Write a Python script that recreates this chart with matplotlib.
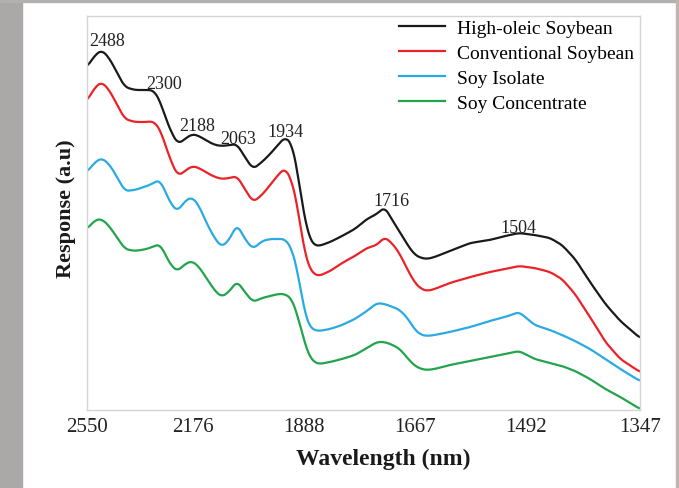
import matplotlib
matplotlib.use("Agg")
import matplotlib.pyplot as plt
from matplotlib.patches import Rectangle
import numpy as np

# ===== dados =====
# comprimentos de onda (nm) comuns às quatro curvas
wavelength = [2550, 2517, 2490, 2459, 2428, 2403, 2367, 2325, 2308, 2298,
              2281, 2265, 2242, 2223, 2202, 2180, 2159, 2136, 2113, 2094,
              2072, 2053, 2032, 2011, 1988, 1968, 1949, 1932, 1916, 1904,
              1893, 1884, 1875, 1866, 1855, 1831, 1806, 1780, 1756, 1737,
              1722, 1707, 1694, 1679, 1667, 1656, 1646, 1633, 1608, 1575,
              1545, 1522, 1502, 1480, 1459, 1443, 1426, 1407, 1388, 1370,
              1347]

high_oleic = [3.43, 3.55, 3.60, 3.51, 3.35, 3.23, 3.20, 3.20, 3.20, 3.18,
              3.09, 2.94, 2.76, 2.66, 2.71, 2.76, 2.74, 2.69, 2.65, 2.64,
              2.65, 2.66, 2.53, 2.41, 2.48, 2.56, 2.65, 2.73, 2.66, 2.41,
              2.08, 1.86, 1.71, 1.65, 1.64, 1.68, 1.74, 1.81, 1.91, 1.96,
              2.03, 1.89, 1.78, 1.64, 1.55, 1.52, 1.51, 1.53, 1.59, 1.67,
              1.70, 1.74, 1.77, 1.75, 1.72, 1.65, 1.51, 1.28, 1.06, 0.89,
              0.72]

conventional = [3.09, 3.23, 3.28, 3.19, 3.03, 2.91, 2.88, 2.88, 2.89, 2.87,
                2.81, 2.66, 2.46, 2.34, 2.39, 2.44, 2.42, 2.37, 2.33, 2.31,
                2.32, 2.34, 2.21, 2.08, 2.15, 2.25, 2.35, 2.42, 2.29, 2.06,
                1.74, 1.53, 1.41, 1.36, 1.34, 1.39, 1.47, 1.54, 1.62, 1.65,
                1.73, 1.66, 1.56, 1.39, 1.27, 1.21, 1.19, 1.21, 1.27, 1.33,
                1.38, 1.41, 1.44, 1.42, 1.38, 1.31, 1.16, 0.93, 0.68, 0.51,
                0.38]

soy_isolate = [2.38, 2.48, 2.52, 2.45, 2.31, 2.19, 2.20, 2.24, 2.26, 2.28,
               2.30, 2.19, 2.04, 1.99, 2.09, 2.13, 2.04, 1.86, 1.71, 1.63,
               1.71, 1.86, 1.71, 1.61, 1.69, 1.71, 1.71, 1.71, 1.61, 1.41,
               1.13, 0.93, 0.83, 0.80, 0.79, 0.81, 0.85, 0.91, 0.99, 1.07,
               1.06, 1.03, 1.00, 0.91, 0.80, 0.75, 0.74, 0.75, 0.78, 0.83,
               0.89, 0.93, 0.98, 0.85, 0.80, 0.75, 0.69, 0.61, 0.51, 0.41,
               0.29]

soy_concentrate = [1.81, 1.90, 1.91, 1.83, 1.71, 1.61, 1.59, 1.61, 1.63, 1.64,
                   1.66, 1.56, 1.43, 1.39, 1.46, 1.49, 1.43, 1.31, 1.19, 1.13,
                   1.19, 1.29, 1.18, 1.08, 1.12, 1.14, 1.16, 1.16, 1.11, 0.96,
                   0.78, 0.63, 0.53, 0.48, 0.46, 0.48, 0.51, 0.55, 0.62, 0.68,
                   0.68, 0.65, 0.61, 0.51, 0.44, 0.41, 0.40, 0.41, 0.45, 0.49,
                   0.53, 0.56, 0.59, 0.51, 0.47, 0.44, 0.39, 0.31, 0.21, 0.13,
                   0.01]

series_names = ['High-oleic Soybean', 'Conventional Soybean', 'Soy Isolate', 'Soy Concentrate']
series_colors = ['#1a1a1a', '#ec2229', '#2aaae2', '#22a44c']

tick_wl = [2550, 2176, 1888, 1667, 1492, 1347]

# rótulos dos picos: texto, posição x (nm), posição y (a.u.)
peak_text = ['2488', '2300', '2188', '2063', '1934', '1716', '1504']
peak_x = [2470, 2268, 2165, 2050, 1932, 1710, 1503]
peak_y = [3.65, 3.22, 2.80, 2.67, 2.74, 2.05, 1.78]

# ===== figura =====
plt.rcParams['font.family'] = ['Liberation Serif', 'DejaVu Serif']

fig = plt.figure(figsize=(6.79, 4.89), dpi=100)
fig.patch.set_facecolor('white')
# faixas da foto de fundo nas bordas
fig.add_artist(Rectangle((0, 0), 22 / 679, 1, transform=fig.transFigure, color='#aba8a8', zorder=-5))
fig.add_artist(Rectangle((0, 1 - 3 / 489), 1, 3 / 489, transform=fig.transFigure, color='#b3b0b0', zorder=-5))
fig.add_artist(Rectangle((676 / 679, 0), 3 / 679, 1, transform=fig.transFigure, color='#c4b2ae', zorder=-5))

ax = fig.add_axes([87 / 679, 1 - 411 / 489, 553 / 679, 394 / 489])

# eixo x linear em número de onda
ax.set_xscale('function', functions=(lambda w: -1e7 / w, lambda t: -1e7 / t))

wl = np.array(wavelength, dtype=float)
k = 1e7 / wl
k_fine = np.linspace(k.min(), k.max(), 600)
for vals, name, cor in zip([high_oleic, conventional, soy_isolate, soy_concentrate],
                           series_names, series_colors):
    y_fine = np.interp(k_fine, k, np.array(vals))
    # suavização leve
    y_pad = np.pad(y_fine, 4, mode='edge')
    y_s = np.convolve(y_pad, np.ones(9) / 9, mode='valid')
    ax.plot(1e7 / k_fine, y_s, color=cor, linewidth=1.6, label=name)

for t, x, y in zip(peak_text, peak_x, peak_y):
    ax.text(x, y, t, ha='center', va='baseline', fontsize=13, color='#222222')

ax.set_xlim(2550, 1347)
ax.set_ylim(0, 3.94)
ax.set_xticks(tick_wl)
ax.set_xticklabels([str(v) for v in tick_wl])
ax.xaxis.set_minor_locator(matplotlib.ticker.NullLocator())
ax.set_yticks([])
ax.tick_params(axis='x', length=0, pad=5, labelsize=15, colors='#222222')

for s in ax.spines.values():
    s.set_color('#d4d4d4')
    s.set_linewidth(1.0)

ax.set_xlabel('Wavelength (nm)', fontsize=17, fontweight='bold', color='#1a1a1a')
ax.xaxis.set_label_coords(0.536, -0.095)
ax.set_ylabel('Response (a.u)', fontsize=16, fontweight='bold', color='#1a1a1a')
ax.yaxis.set_label_coords(-0.019, 0.513)

ax.legend(loc='upper right', bbox_to_anchor=(0.992, 0.996), frameon=False, fontsize=14,
          handlelength=2.35, handletextpad=0.6, labelspacing=0.37, borderaxespad=0.0,
          borderpad=0.1)

fig.savefig('out.png', dpi=100)
